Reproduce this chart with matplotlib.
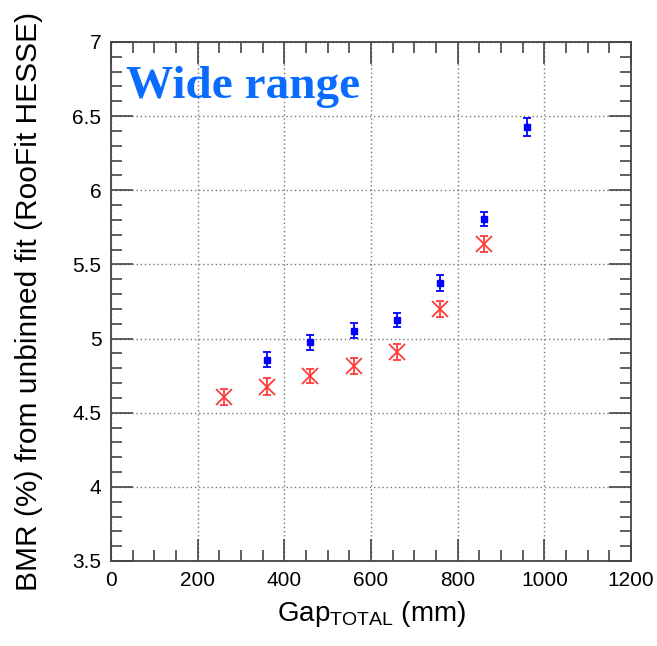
import numpy as np
import matplotlib
matplotlib.use('Agg')
from matplotlib import pyplot as plt
from matplotlib.ticker import MultipleLocator

plt.rcParams['font.family'] = ['Liberation Sans', 'DejaVu Sans']
plt.rcParams['mathtext.fontset'] = 'custom'
plt.rcParams['mathtext.rm'] = 'Liberation Sans'

# values
gap_blue = [360, 460, 560, 660, 760, 860, 960]
bmr_blue = [4.856, 4.975, 5.053, 5.125, 5.373, 5.806, 6.429]
err_blue = [0.05, 0.05, 0.05, 0.05, 0.053, 0.05, 0.06]

gap_red = [260, 360, 460, 560, 660, 760, 860]
bmr_red = [4.608, 4.676, 4.748, 4.815, 4.908, 5.200, 5.638]
err_red = [0.055, 0.055, 0.05, 0.055, 0.055, 0.055, 0.056]

fig = plt.figure(figsize=(6.57, 6.46), dpi=100)
ax = fig.add_axes([0.169, 0.1316, 0.7915, 0.8034])

ax.errorbar(gap_red, bmr_red, yerr=err_red, fmt='x', color='#ff3b3b',
            ms=11, mew=1.3, elinewidth=1.3, capsize=3, capthick=1.3, zorder=3)
ax.errorbar(gap_blue, bmr_blue, yerr=err_blue, fmt='s', color='#0000ff',
            ms=5, elinewidth=1.3, capsize=3, capthick=1.3, zorder=4)

ax.set_xlim(0, 1200)
ax.set_ylim(3.5, 7)
ax.xaxis.set_major_locator(MultipleLocator(200))
ax.xaxis.set_minor_locator(MultipleLocator(50))
ax.yaxis.set_major_locator(MultipleLocator(0.5))
ax.yaxis.set_minor_locator(MultipleLocator(0.1))
ax.yaxis.set_major_formatter(plt.FuncFormatter(lambda v, p: ('%g' % v)))

ax.grid(True, which='major', linestyle=(0, (1, 2)), color='#777777', linewidth=1.0)
ax.tick_params(which='both', direction='in', top=True, right=True,
               color='#444444', width=1.2, labelsize=15)
ax.tick_params(which='major', length=16, pad=7)
ax.tick_params(which='minor', length=8)
for s in ax.spines.values():
    s.set_color('#444444')
    s.set_linewidth(1.3)

ax.set_xlabel(r'Gap$_{\mathrm{TOTAL}}$ (mm)', fontsize=20, labelpad=7)
ax.set_ylabel('BMR (%) from unbinned fit (RooFit HESSE)', fontsize=21.5)
ax.yaxis.set_label_coords(-0.13, 0.5)

ax.text(0.029, 0.892, 'Wide range', transform=ax.transAxes, va='baseline',
        fontsize=34, fontweight='bold', family='Liberation Serif', color='#0a6cff')

fig.savefig('out.png', dpi=100)
